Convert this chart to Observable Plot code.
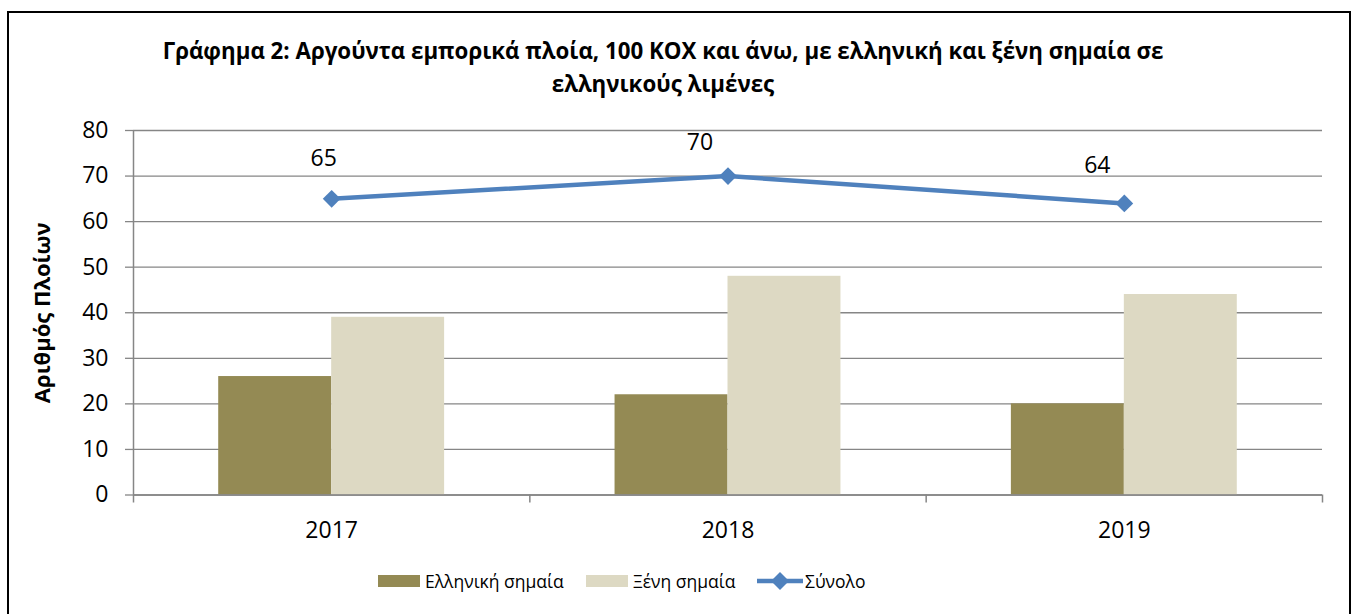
<!DOCTYPE html>
<html><head><meta charset="utf-8">
<script src="https://cdn.jsdelivr.net/npm/d3@7"></script>
<script src="https://cdn.jsdelivr.net/npm/@observablehq/plot@0.6"></script>
<style>
body{margin:0;background:#fff;font-family:"Open Sans",sans-serif;}
#wrap{position:relative;width:1357px;height:614px;overflow:hidden;background:#fff;}
#border{position:absolute;left:7px;top:11px;width:1344px;height:700px;border:2px solid #000;box-sizing:border-box;pointer-events:none;}
#title{position:absolute;left:0;width:1326px;top:34px;text-align:center;font-weight:bold;font-size:22.3px;line-height:33px;color:#000;}
#chart{position:absolute;left:0;top:0;}
#legend{position:absolute;top:569px;left:0;height:24px;width:1357px;font-size:17.5px;color:#000;white-space:nowrap;}
.item{position:absolute;top:0;height:24px;display:flex;align-items:center;}
.sw{width:42px;height:12px;margin-right:5px;}
</style></head>
<body>
<div id="wrap">
  <div id="chart"></div>
  <div id="title">Γράφημα 2: Αργούντα εμπορικά πλοία, 100 ΚΟΧ και άνω, με ελληνική και ξένη σημαία σε<br>ελληνικούς λιμένες</div>
  <div id="legend"></div>
  <div id="border"></div>
</div>
<script>
const years = ["2017", "2018", "2019"];
const greekFlag = [26, 22, 20];
const foreignFlag = [39, 48, 44];
const totals = [65, 70, 64];
const seriesNames = ["Ελληνική σημαία", "Ξένη σημαία", "Σύνολο"];
const yTicks = [0, 10, 20, 30, 40, 50, 60, 70, 80];
const yLabel = "Αριθμός Πλοίων";

// styling / layout constants
const colors = ["#948A54", "#DDD9C3", "#4F81BD"];
const gray = "#868686";
const pad = 0.215; // group padding within each year band
const labelOffsets = [[-8, -40], [-28, -33], [-27, -38]]; // value label nudges (px)
const legendLefts = [378, 586, 757];

const rows = years.map((year, i) => ({i, year, greek: greekFlag[i], foreign: foreignFlag[i], total: totals[i]}));

const chart = Plot.plot({
  width: 1357,
  height: 614,
  marginLeft: 133,
  marginRight: 35,
  marginTop: 130,
  marginBottom: 119.5,
  style: {fontFamily: "Open Sans", fontSize: "23px", color: "#000", background: "transparent", overflow: "visible"},
  x: {type: "linear", domain: [0, years.length]},
  y: {domain: [0, 80]},
  marks: [
    Plot.gridY({ticks: yTicks, stroke: gray, strokeOpacity: 1, strokeWidth: 1.3}),
    Plot.rectY(rows, {x1: d => d.i + pad, x2: d => d.i + 0.5, y: "greek", fill: colors[0]}),
    Plot.rectY(rows, {x1: d => d.i + 0.5, x2: d => d.i + 1 - pad, y: "foreign", fill: colors[1]}),
    Plot.ruleY([0], {stroke: gray, strokeWidth: 1.5}),
    Plot.ruleX([0], {stroke: gray, strokeWidth: 1.5}),
    Plot.axisY({ticks: yTicks, tickSize: 8, tickPadding: 17, stroke: gray, strokeWidth: 1.3, fontSize: 23, label: null}),
    Plot.axisX({ticks: d3.range(0, years.length + 1), tickSize: 8, stroke: gray, strokeWidth: 1.5, tickFormat: () => "", label: null}),
    Plot.axisX({ticks: years.map((_, i) => i + 0.5), tickSize: 0, tickPadding: 27, tickFormat: d => years[Math.floor(d)], fontSize: 23, label: null}),
    Plot.line(rows, {x: d => d.i + 0.5, y: "total", stroke: colors[2], strokeWidth: 4.5}),
    Plot.dot(rows, {x: d => d.i + 0.5, y: "total", symbol: "diamond2", r: 8, fill: colors[2], stroke: null}),
    ...rows.map((r, k) => Plot.text([r], {x: d => d.i + 0.5, y: "total", text: d => String(d.total), dx: labelOffsets[k][0], dy: labelOffsets[k][1], fontSize: 23, fill: "#000"})),
    Plot.text([yLabel], {frameAnchor: "left", textAnchor: "middle", dx: -91, rotate: -90, fontWeight: "bold", fontSize: 22, fill: "#000"})
  ]
});
document.getElementById("chart").appendChild(chart);

const legend = document.getElementById("legend");
seriesNames.forEach((name, k) => {
  const item = document.createElement("div");
  item.className = "item";
  item.style.left = legendLefts[k] + "px";
  if (k < 2) {
    const sw = document.createElement("div");
    sw.className = "sw";
    sw.style.background = colors[k];
    item.appendChild(sw);
  } else {
    const ns = "http://www.w3.org/2000/svg";
    const s = document.createElementNS(ns, "svg");
    s.setAttribute("width", 46); s.setAttribute("height", 20);
    s.style.marginRight = "2px";
    const l = document.createElementNS(ns, "line");
    l.setAttribute("x1", 0); l.setAttribute("x2", 46); l.setAttribute("y1", 10); l.setAttribute("y2", 10);
    l.setAttribute("stroke", colors[2]); l.setAttribute("stroke-width", 4.5);
    const p = document.createElementNS(ns, "path");
    p.setAttribute("d", "M23,1 L32,10 L23,19 L14,10 Z");
    p.setAttribute("fill", colors[2]);
    s.appendChild(l); s.appendChild(p);
    item.appendChild(s);
  }
  const t = document.createElement("span");
  t.textContent = name;
  item.appendChild(t);
  legend.appendChild(item);
});
</script>
</body></html>
